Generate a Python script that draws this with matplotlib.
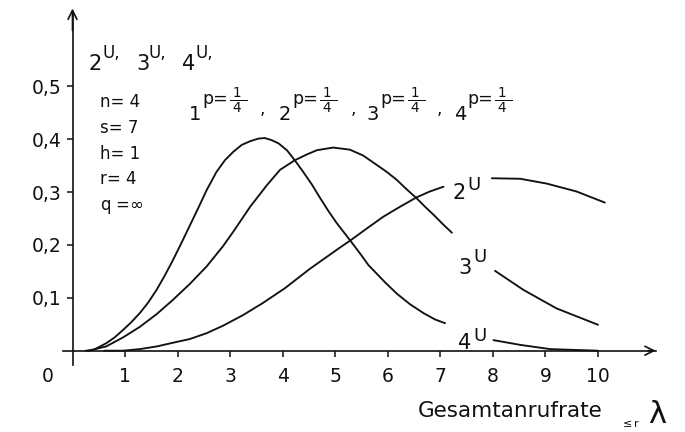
import matplotlib
matplotlib.use("Agg")
import matplotlib.pyplot as plt

plt.rcParams['font.family'] = ['DejaVu Sans']
plt.rcParams['mathtext.default'] = 'regular'

# curves read as (x, y); each one is broken where its label sits
u4_x_a = [0.25, 0.39, 0.64, 0.80, 0.96, 1.12, 1.28, 1.44, 1.60, 1.75, 1.91, 2.07, 2.23, 2.39, 2.55,
          2.74, 2.90, 3.06, 3.22, 3.38, 3.54, 3.66, 3.79, 3.92, 4.08, 4.23, 4.39, 4.55, 4.71, 4.87,
          5.03, 5.28, 5.47, 5.63, 5.95, 6.17, 6.42, 6.68, 6.90, 7.09]
u4_y_a = [0.0, 0.001, 0.014, 0.025, 0.039, 0.054, 0.071, 0.091, 0.115, 0.141, 0.171, 0.203, 0.236, 0.269, 0.303,
          0.338, 0.360, 0.376, 0.389, 0.396, 0.401, 0.402, 0.398, 0.392, 0.379, 0.360, 0.338, 0.315, 0.289, 0.264,
          0.241, 0.209, 0.184, 0.162, 0.129, 0.108, 0.088, 0.071, 0.059, 0.052]
u4_x_b = [8.01, 8.52, 9.09, 10.0]
u4_y_b = [0.020, 0.011, 0.003, 0.0]

u3_x_a = [0.3, 0.64, 0.96, 1.28, 1.60, 1.91, 2.23, 2.55, 2.86, 3.06, 3.38, 3.70, 3.95, 4.23, 4.46,
          4.65, 4.96, 5.28, 5.53, 5.72, 5.98, 6.17, 6.36, 6.55, 6.71, 6.87, 7.06, 7.22]
u3_y_a = [0.0, 0.008, 0.025, 0.045, 0.069, 0.096, 0.126, 0.159, 0.197, 0.225, 0.272, 0.313, 0.342, 0.360, 0.371,
          0.379, 0.384, 0.380, 0.369, 0.356, 0.338, 0.323, 0.305, 0.288, 0.272, 0.257, 0.238, 0.223]
u3_x_b = [8.04, 8.58, 9.21, 10.0]
u3_y_b = [0.151, 0.115, 0.080, 0.049]

u2_x_a = [0.6, 0.96, 1.28, 1.60, 1.91, 2.23, 2.55, 2.86, 3.24, 3.62, 4.04, 4.52, 5.09, 5.31, 5.60,
          5.91, 6.23, 6.55, 6.80, 7.06]
u2_y_a = [0.0, 0.0, 0.003, 0.008, 0.015, 0.022, 0.033, 0.047, 0.067, 0.090, 0.118, 0.155, 0.195, 0.210, 0.231,
          0.253, 0.272, 0.290, 0.301, 0.310]
u2_x_b = [7.98, 8.52, 9.02, 9.59, 10.13]
u2_y_b = [0.326, 0.325, 0.316, 0.301, 0.280]

xticks = [1, 2, 3, 4, 5, 6, 7, 8, 9, 10]
yticks = [0.1, 0.2, 0.3, 0.4, 0.5]
ytick_labels = ['0,1', '0,2', '0,3', '0,4', '0,5']
params = ['n= 4', 's= 7', 'h= 1', 'r= 4', r'q =$\infty$']
p_groups = ['1', '2', '3', '4']

W, H = 685, 432
fig = plt.figure(figsize=(W / 100, H / 100), dpi=100)
ax = fig.add_axes([0, 0, 1, 1])

# pixel layout: x=0 at 72.5 px, 52.55 px per unit; y=0 at 350.7 px, 529 px per unit
x0, sx, y0, sy = 72.5, 52.55, 350.7, 529.0
ax.set_xlim(-x0 / sx, (W - x0) / sx)
ax.set_ylim((y0 - H) / sy, y0 / sy)


def P(px, py):
    return px / W, 1 - py / H


ink = '#111111'
lw = 1.35
for xs, ys in [(u4_x_a, u4_y_a), (u4_x_b, u4_y_b), (u3_x_a, u3_y_a), (u3_x_b, u3_y_b),
               (u2_x_a, u2_y_a), (u2_x_b, u2_y_b)]:
    ax.plot(xs, ys, color=ink, lw=lw, solid_capstyle='round', solid_joinstyle='round')

# axes through the origin with arrow heads
for side in ['top', 'right']:
    ax.spines[side].set_visible(False)
ax.spines['left'].set_position(('data', 0))
ax.spines['bottom'].set_position(('data', 0))
ax.spines['left'].set_bounds(-0.027, 0.64)
ax.spines['bottom'].set_bounds(-0.19, 11.1)
for side in ['left', 'bottom']:
    ax.spines[side].set_linewidth(1.2)
    ax.spines[side].set_color(ink)
ax.annotate('', xy=(0, 0.652), xytext=(0, 0.60),
            arrowprops=dict(arrowstyle='->', lw=1.2, color=ink, mutation_scale=16))
ax.annotate('', xy=(11.15, 0), xytext=(10.9, 0),
            arrowprops=dict(arrowstyle='->', lw=1.2, color=ink, mutation_scale=16))

ax.set_xticks(xticks)
ax.set_xticklabels([str(t) for t in xticks])
ax.set_yticks(yticks)
ax.set_yticklabels(ytick_labels)
ax.tick_params(axis='both', direction='out', length=4, width=1.1, colors=ink, labelsize=13.5)
ax.tick_params(axis='x', pad=8)
ax.tick_params(axis='y', pad=4)
ax.patch.set_visible(False)

fig.text(*P(48, 377), '0', fontsize=13.5, ha='center', va='center', color=ink)

# 2U, 3U, 4U header: digit on the line, "U," raised
for d, xd, xu in [('2', 88, 102), ('3', 136, 149), ('4', 182, 196)]:
    fig.text(*P(xd, 70), d, fontsize=15, color=ink, va='baseline')
    fig.text(*P(xu, 58), 'U,', fontsize=12, color=ink, va='baseline')

# parameter block
for i, s in enumerate(params):
    fig.text(*P(100, 107 + 25.8 * i), s, fontsize=12, color=ink, va='baseline')

# 1p=1/4 , 2p=1/4 , 3p=1/4 , 4p=1/4
p_x = [202, 292, 380, 467]
comma_x = [260, 351, 437]
for d, xp in zip(p_groups, p_x):
    fig.text(*P(xp - 1, 120), d, fontsize=14, color=ink, ha='right', va='baseline')
    fig.text(*P(xp, 103.5), 'p=', fontsize=12.5, color=ink, va='baseline')
    fig.text(*P(xp + 27, 101), r'$\frac{\;1\;}{\;4\;}$', fontsize=14, color=ink, va='center')
for xc in comma_x:
    fig.text(*P(xc, 114), ',', fontsize=12.5, color=ink, va='baseline')

# curve labels
for d, xd, yd, xu, yu in [('2', 453, 199, 467, 190), ('3', 458, 274, 473, 262), ('4', 458, 349, 473, 341)]:
    fig.text(*P(xd, yd), d, fontsize=15, color=ink, va='baseline')
    fig.text(*P(xu, yu), 'U', fontsize=13, color=ink, va='baseline')

# x axis title
fig.text(*P(510, 417), 'Gesamtanrufrate', fontsize=15.5, color=ink, ha='center', va='baseline')
fig.text(*P(620, 427), r'$\leq$r', fontsize=8, color=ink, va='baseline')
fig.text(*P(648, 423), r'$\lambda$', fontsize=22, color=ink, va='baseline')

fig.savefig('out.png', dpi=100)
